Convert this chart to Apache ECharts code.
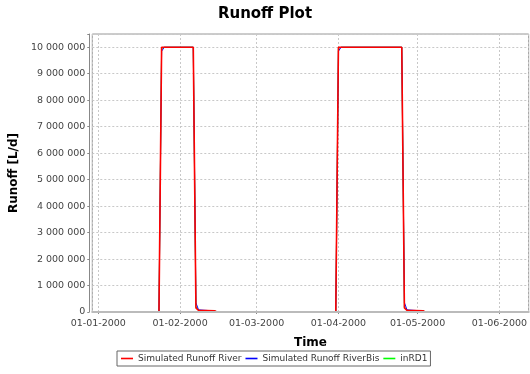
<!DOCTYPE html>
<html>
<head>
<meta charset="utf-8">
<script src="https://cdn.jsdelivr.net/npm/echarts@6/dist/echarts.min.js"></script>
<style>
html,body{margin:0;padding:0;background:#fff;}
#chart{width:530px;height:374px;}
</style>
</head>
<body>
<div id="chart"></div>
<script>
// Dates at which the series change (daily samples)
const dates = [
  '2000-01-01','2000-01-24','2000-01-25','2000-01-26','2000-02-06','2000-02-07',
  '2000-02-08','2000-02-14','2000-02-15','2000-03-31','2000-04-01','2000-04-02',
  '2000-04-25','2000-04-26','2000-04-27','2000-05-03','2000-05-04','2000-06-08'
];
const riverValues = [
  0,0,10000000,10000000,10000000,150000,
  60000,50000,0,0,10000000,10000000,
  10000000,150000,60000,50000,0,0
];
const riverBisValues = [
  0,0,9850000,10000000,10000000,350000,
  80000,40000,0,0,9850000,10000000,
  10000000,350000,80000,40000,0,0
];
const inRD1Values = [
  0,0,9950000,10000000,10000000,200000,
  60000,50000,0,0,9950000,10000000,
  10000000,200000,60000,50000,0,0
];
const seriesNames = ['Simulated Runoff River','Simulated Runoff RiverBis','inRD1'];
const seriesColors = ['#ff0000','#0000ff','#00ff00'];
const seriesWidths = [1.6,1,1];
const yTicks = [0,1000000,2000000,3000000,4000000,5000000,6000000,7000000,8000000,9000000,10000000];

const xMin = '1999-12-29 17:40:00';
const xMax = '2000-06-12 02:00:00';

const FONT = 'DejaVu Sans';
function pad(n){return (n<10?'0':'')+n;}
function fmtDate(v){const d=new Date(v);return pad(d.getDate())+'-'+pad(d.getMonth()+1)+'-'+d.getFullYear();}
function fmtNum(v){return String(v).replace(/\B(?=(\d{3})+(?!\d))/g,' ');}

const allValues=[riverValues,riverBisValues,inRD1Values];
const chart = echarts.init(document.getElementById('chart'),null,{renderer:'canvas'});
chart.setOption({
  animation:false,
  backgroundColor:'#fff',
  title:{text:'Runoff Plot',left:'center',top:2,
    textStyle:{fontFamily:FONT,fontSize:15,fontWeight:'bold',color:'#000'}},
  legend:{
    data:seriesNames.map(function(n,i){return {name:n,icon:'rect',itemStyle:{color:seriesColors[i],borderWidth:0}};}),
    left:117, top:351, orient:'horizontal',
    itemWidth:12, itemHeight:1.6, itemGap:4,
    padding:[3,3,3,4], borderColor:'#666', borderWidth:1,
    itemStyle:{borderWidth:0},
    textStyle:{fontFamily:FONT,fontSize:9,color:'#333'}
  },
  grid:{left:92,right:0,top:34,bottom:62,show:true,borderColor:'#999',borderWidth:1,backgroundColor:'#fff',containLabel:false},
  xAxis:[{
    type:'time', min:xMin, max:xMax, offset:3,
    minInterval:28*86400000, maxInterval:31*86400000,
    name:'Time', nameLocation:'middle', nameGap:22,
    nameTextStyle:{fontFamily:FONT,fontSize:12,fontWeight:'bold',color:'#000'},
    axisLine:{show:true,lineStyle:{color:'#888',width:1}},
    axisTick:{show:true,length:2,lineStyle:{color:'#888'}},
    axisLabel:{formatter:fmtDate,fontFamily:FONT,fontSize:9.5,color:'#444',margin:4,hideOverlap:false},
    splitLine:{show:true,lineStyle:{color:'#c8c8c8',type:[2,2],width:1}}
  },{
    type:'time', min:xMin, max:xMax, position:'bottom', offset:0, z:10,
    axisLine:{show:true,onZero:false,lineStyle:{color:'#bbb',width:2}},
    axisTick:{show:false}, axisLabel:{show:false}, splitLine:{show:false}
  }],
  yAxis:{
    type:'value', min:0, max:10500000, interval:1000000, offset:3,
    name:'Runoff [L/d]', nameLocation:'middle', nameGap:63,
    nameTextStyle:{fontFamily:FONT,fontSize:12,fontWeight:'bold',color:'#000'},
    axisLine:{show:true,lineStyle:{color:'#888',width:1}},
    axisTick:{show:true,length:2,lineStyle:{color:'#888'}},
    axisLabel:{fontFamily:FONT,fontSize:9.5,color:'#444',margin:4,
      formatter:function(v){return yTicks.indexOf(v)>=0?fmtNum(v):'';}},
    splitLine:{show:true,lineStyle:{color:'#c8c8c8',type:[2,2],width:1}}
  },
  series:seriesNames.map(function(n,i){return {
    name:n, type:'line', xAxisIndex:0, showSymbol:false, symbol:'none',
    z:4-i, color:seriesColors[i],
    lineStyle:{width:seriesWidths[i],color:seriesColors[i]},
    data:dates.map(function(d,k){return [d,allValues[i][k]];})
  };})
});
</script>
</body>
</html>
